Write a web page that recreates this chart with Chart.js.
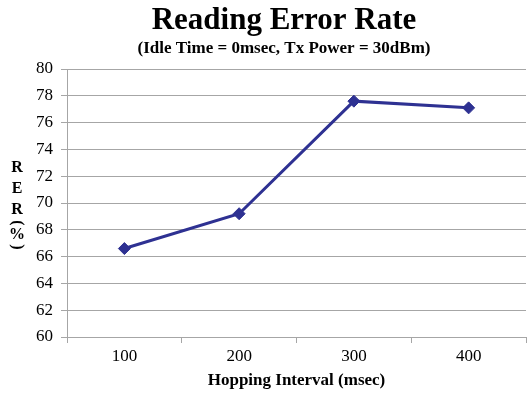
<!DOCTYPE html>
<html>
<head>
<meta charset="utf-8">
<script src="https://cdn.jsdelivr.net/npm/chart.js@4"></script>
<style>
  html, body { margin: 0; padding: 0; background: #ffffff; overflow: hidden; }
  #wrap { width: 529px; height: 395px; position: relative; }
</style>
</head>
<body>
<div id="wrap"><canvas id="c" width="529" height="395"></canvas></div>
<script>
// Hopping interval categories (msec) and the reading error rate at each
const categories = ['100', '200', '300', '400'];
const rerValues = [66.6, 69.2, 77.6, 77.1];
const yTicks = [60, 62, 64, 66, 68, 70, 72, 74, 76, 78, 80];

const titleText = 'Reading Error Rate';
const subtitleText = '(Idle Time = 0msec, Tx Power = 30dBm)';
const xTitleText = 'Hopping Interval (msec)';
const yTitleChars = ['R', 'E', 'R', '(', '%', ')'];

const SERIF = '"Liberation Serif", "Times New Roman", serif';
const GRID = '#a6a6a6';
const LINE = '#2e3192';

// Heading block plus a vertical, letter-stacked y axis title
// (parentheses in the stacked title are turned on their side)
const headingPlugin = {
  id: 'headings',
  afterDraw(chart) {
    const ctx = chart.ctx;
    ctx.save();
    ctx.fillStyle = '#000';
    ctx.textAlign = 'center';
    ctx.textBaseline = 'alphabetic';
    ctx.font = 'bold 31px ' + SERIF;
    ctx.fillText(titleText, 284, 29);
    ctx.font = 'bold 17px ' + SERIF;
    ctx.fillText(subtitleText, 284, 53);

    const ys = [168, 189, 210, 223, 235, 247];
    ctx.font = 'bold 16px ' + SERIF;
    ctx.textBaseline = 'middle';
    yTitleChars.forEach((ch, i) => {
      const x = 17, y = ys[i];
      if (ch === '(' || ch === ')') {
        ctx.save();
        ctx.translate(x, y);
        ctx.rotate(Math.PI / 2);
        ctx.fillText(ch, 0, 0);
        ctx.restore();
      } else {
        ctx.fillText(ch, x, y);
      }
    });
    ctx.restore();
  }
};

new Chart(document.getElementById('c'), {
  type: 'line',
  data: {
    labels: categories,
    datasets: [{
      data: rerValues,
      borderColor: LINE,
      backgroundColor: LINE,
      borderWidth: 3,
      pointStyle: 'rectRot',
      pointRadius: 6,
      pointHoverRadius: 6,
      pointBorderWidth: 1,
      tension: 0,
      fill: false
    }]
  },
  options: {
    responsive: false,
    animation: false,
    layout: { autoPadding: false, padding: { left: 0, right: 3, top: 69, bottom: 4 } },
    plugins: {
      legend: { display: false },
      tooltip: { enabled: false },
      title: { display: false },
      subtitle: { display: false }
    },
    scales: {
      x: {
        type: 'category',
        offset: true,
        afterFit(scale) {
          scale.height = 54;
          scale.paddingLeft = 0;
          scale.paddingRight = 0;
        },
        grid: {
          offset: true,
          drawOnChartArea: false,
          drawTicks: true,
          tickLength: 6,
          color: GRID
        },
        border: { color: GRID, width: 1 },
        ticks: {
          color: '#000',
          font: { family: SERIF, size: 17 },
          padding: 3
        },
        title: {
          display: true,
          text: xTitleText,
          color: '#000',
          font: { family: SERIF, size: 17, weight: 'bold' },
          padding: { top: 6, bottom: 0 }
        }
      },
      y: {
        min: 60,
        max: 80,
        afterFit(scale) {
          scale.width = 67;
          scale.paddingTop = 0;
          scale.paddingBottom = 0;
        },
        afterBuildTicks(scale) {
          scale.ticks = yTicks.map(v => ({ value: v }));
        },
        grid: {
          color: GRID,
          lineWidth: 1,
          drawTicks: true,
          tickLength: 6
        },
        border: { color: GRID, width: 1 },
        ticks: {
          color: '#000',
          font: { family: SERIF, size: 17 },
          padding: 8
        }
      }
    }
  },
  plugins: [headingPlugin]
});
</script>
</body>
</html>
